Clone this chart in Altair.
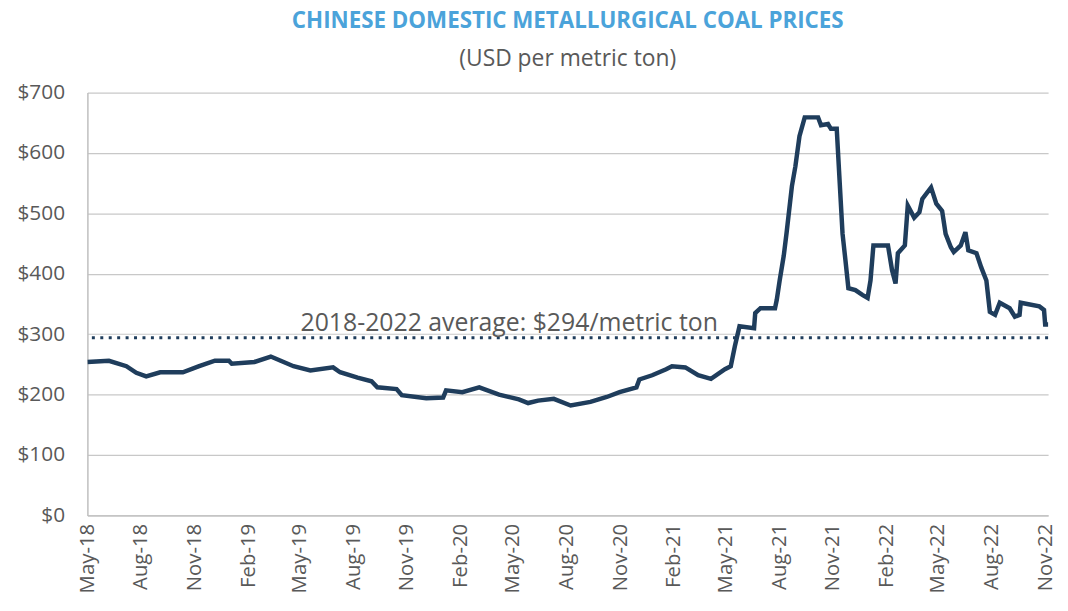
import altair as alt
import pandas as pd

dates = [
    "2018-05-01", "2018-06-07", "2018-07-07", "2018-07-24", "2018-08-10", "2018-09-03",
    "2018-10-12", "2018-11-09", "2018-12-06", "2018-12-30", "2019-01-04", "2019-02-12",
    "2019-03-12", "2019-03-29", "2019-04-20", "2019-05-19", "2019-06-27", "2019-07-09",
    "2019-08-08", "2019-09-01", "2019-09-11", "2019-10-14", "2019-10-23", "2019-12-04",
    "2020-01-02", "2020-01-07", "2020-02-04", "2020-03-04", "2020-04-07", "2020-05-11",
    "2020-05-27", "2020-06-13", "2020-07-10", "2020-08-08", "2020-09-11", "2020-10-09",
    "2020-10-31", "2020-11-29", "2020-12-04", "2020-12-26", "2021-01-19", "2021-01-29",
    "2021-02-21", "2021-03-15", "2021-04-06", "2021-04-30", "2021-05-10", "2021-05-17",
    "2021-05-25", "2021-06-19", "2021-06-21", "2021-06-30", "2021-07-25", "2021-07-28",
    "2021-08-02", "2021-08-09", "2021-08-14", "2021-08-23", "2021-08-29", "2021-09-05",
    "2021-09-14", "2021-10-07", "2021-10-12", "2021-10-24", "2021-10-29", "2021-11-08",
    "2021-11-12", "2021-11-18", "2021-11-23", "2021-11-28", "2021-12-10", "2021-12-22",
    "2021-12-31", "2022-01-05", "2022-01-10", "2022-02-04", "2022-02-11", "2022-02-17",
    "2022-02-21", "2022-03-05", "2022-03-10", "2022-03-21", "2022-03-30", "2022-04-04",
    "2022-04-19", "2022-04-28", "2022-05-08", "2022-05-14", "2022-05-23", "2022-05-28",
    "2022-06-09", "2022-06-17", "2022-06-22", "2022-07-06", "2022-07-14", "2022-07-23",
    "2022-07-29", "2022-08-07", "2022-08-15", "2022-09-01", "2022-09-10", "2022-09-18",
    "2022-09-20", "2022-10-22", "2022-10-30", "2022-11-01", "2022-11-09",
]
prices = [
    254, 256, 247, 236, 230, 237,
    237, 247, 256, 256, 251, 254,
    263, 256, 247, 240, 245, 237,
    228, 222, 212, 209, 199, 194,
    195, 207, 204, 212, 200, 192,
    186, 190, 193, 182, 188, 196,
    204, 212, 225, 232, 242, 247,
    245, 232, 226, 242, 247, 280,
    313, 310, 335, 343, 343, 357,
    389, 430, 469, 545, 578, 628,
    659, 659, 646, 648, 640, 640,
    570, 466, 422, 376, 373, 365,
    360, 389, 447, 447, 406, 384,
    434, 447, 513, 493, 502, 524,
    543, 516, 504, 466, 444, 436,
    447, 469, 439, 434, 411, 389,
    337, 332, 352, 343, 329, 332,
    352, 346, 340, 316, 316,
]

avg_value = 294
avg_label = "2018-2022 average: $294/metric ton"
avg_label_date = "2019-05-02"
domain_start = (2018, 5, 1)
domain_end = (2022, 11, 6)
tick_months = [(2018 + (4 + 3 * i) // 12, (4 + 3 * i) % 12 + 1) for i in range(19)]

FONT = "Open Sans"
GRAY = "#595959"
NAVY = "#1F3D5C"

df = pd.DataFrame({"date": dates, "price": prices})
avg_df = pd.DataFrame({"y": [avg_value]})
lab_df = pd.DataFrame({"date": [avg_label_date], "y": [avg_value], "text": [avg_label]})

xscale = alt.Scale(
    type="utc",
    domain=[
        alt.DateTime(year=domain_start[0], month=domain_start[1], date=domain_start[2], utc=True),
        alt.DateTime(year=domain_end[0], month=domain_end[1], date=domain_end[2], utc=True),
    ],
)
yscale = alt.Scale(domain=[0, 700], nice=False)

xaxis = alt.Axis(
    values=[alt.DateTime(year=y, month=m, date=1, utc=True) for y, m in tick_months],
    format="%b-%y",
    labelAngle=270,
    labelAlign="right",
    labelBaseline="middle",
    labelFont=FONT,
    labelFontSize=20.5,
    labelColor=GRAY,
    labelPadding=8,
    ticks=False,
    grid=False,
    domainColor="#BFBFBF",
    domainWidth=1.5,
    title=None,
    labelOverlap=False,
    labelFlush=False,
)
yaxis = alt.Axis(
    values=list(range(0, 701, 100)),
    format="$,.0f",
    labelFont=FONT,
    labelFontSize=21,
    labelColor=GRAY,
    labelPadding=23,
    ticks=False,
    grid=True,
    gridColor="#C8C8C8",
    gridWidth=1.2,
    domainColor="#BFBFBF",
    domainWidth=1.5,
    title=None,
)

line = alt.Chart(df).mark_line(color=NAVY, strokeWidth=4.5, clip=True).encode(
    x=alt.X("date:T", scale=xscale, axis=xaxis),
    y=alt.Y("price:Q", scale=yscale, axis=yaxis),
)

avg_rule = alt.Chart(avg_df).mark_rule(
    color=NAVY, strokeWidth=3, strokeDash=[3, 5.5]
).encode(y=alt.Y("y:Q", scale=yscale))

avg_text = alt.Chart(lab_df).mark_text(
    align="left", baseline="bottom", dy=-2, font=FONT, fontSize=25, color=GRAY
).encode(
    x=alt.X("date:T", scale=xscale),
    y=alt.Y("y:Q", scale=yscale),
    text="text:N",
)

chart = (
    alt.layer(avg_rule, line, avg_text)
    .properties(
        width=968,
        height=426,
        autosize=alt.AutoSizeParams(type="none"),
        padding={"left": 80, "top": 83, "right": 12, "bottom": 80},
        title=alt.TitleParams(
            text="CHINESE DOMESTIC METALLURGICAL COAL PRICES",
            subtitle="(USD per metric ton)",
            anchor="middle",
            frame="group",
            font=FONT,
            fontSize=22.5,
            fontWeight="bold",
            color="#4BA3DA",
            subtitleFont=FONT,
            subtitleFontSize=23,
            subtitleColor=GRAY,
            subtitlePadding=16,
            offset=11,
        ),
    )
    .configure_view(strokeWidth=0)
)

chart.save("out.html", embed_options={"renderer": "svg", "actions": False})
